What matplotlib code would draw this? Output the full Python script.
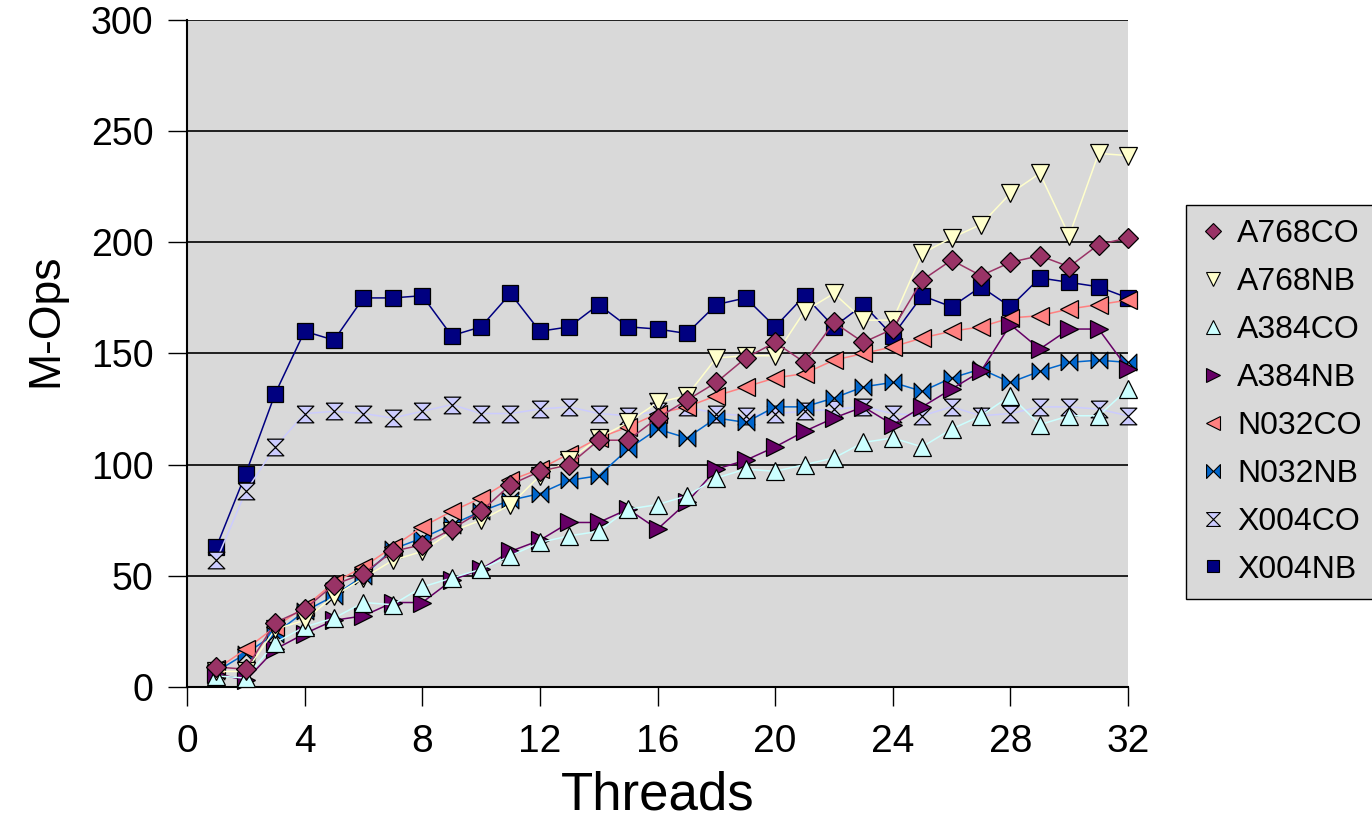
import numpy as np
import matplotlib.pyplot as plt
from matplotlib.lines import Line2D

plt.rcParams['font.family'] = ['Liberation Sans', 'DejaVu Sans']

# Values (M-Ops per thread count).
threads = np.arange(1, 33)

a768co = [9, 8, 29, 35, 46, 51, 61, 64, 71, 79, 91, 97, 100, 111, 111, 121,
          129, 137, 148, 155, 146, 164, 155, 161, 183, 192, 185, 191, 194, 189, 199, 202]
a768nb = [7, 7, 26, 30, 41, 49, 57, 61, 70, 75, 82, 95, 102, 112, 119, 128,
          131, 148, 149, 149, 169, 177, 165, 165, 195, 202, 208, 222, 231, 203, 240, 239]
a384co = [5, 4, 20, 27, 31, 38, 37, 45, 49, 53, 59, 65, 68, 70, 80, 82,
          86, 94, 98, 97, 100, 103, 110, 112, 108, 116, 122, 131, 118, 122, 122, 134]
a384nb = [6, 3, 17, 24, 30, 32, 38, 38, 48, 53, 61, 66, 74, 74, 80, 71,
          83, 98, 102, 108, 115, 121, 126, 118, 126, 134, 142, 163, 152, 161, 161, 143]
n032co = [8, 17, 27, 36, 47, 54, 63, 72, 79, 85, 93, 98, 105, 112, 117, 123,
          126, 131, 135, 139, 141, 147, 150, 153, 157, 160, 162, 166, 167, 170, 172, 174]
n032nb = [7, 15, 24, 34, 41, 50, 62, 67, 73, 79, 84, 87, 93, 95, 107, 116,
          112, 121, 119, 126, 126, 130, 135, 137, 133, 139, 143, 137, 142, 146, 147, 146]
x004co = [57, 88, 108, 123, 124, 123, 121, 124, 127, 123, 123, 125, 126, 123, 122, 124,
          126, 123, 122, 123, 124, 125, 126, 123, 122, 126, 122, 123, 126, 126, 125, 122]
x004nb = [63, 96, 132, 160, 156, 175, 175, 176, 158, 162, 177, 160, 162, 172, 162, 161,
          159, 172, 175, 162, 176, 162, 172, 158, 176, 171, 180, 171, 184, 182, 180, 175]

names = ['A768CO', 'A768NB', 'A384CO', 'A384NB', 'N032CO', 'N032NB', 'X004CO', 'X004NB']
values = [a768co, a768nb, a384co, a384nb, n032co, n032nb, x004co, x004nb]

# Excel-like palette and markers.
colors = ['#993366', '#ffffcc', '#ccffff', '#660066', '#ff8080', '#0066cc', '#ccccff', '#000080']
bowtie = [(-1, -1), (-1, 1), (0, 0), (1, 1), (1, -1), (0, 0), (-1, -1)]
hourglass = [(-1, 1), (1, 1), (0, 0), (1, -1), (-1, -1), (0, 0), (-1, 1)]
markers = ['D', 'v', '^', '>', '<', bowtie, hourglass, 's']
sizes = [10, 13, 13, 13, 13, 12, 12, 11.5]
legend_sizes = [8, 10, 10, 10, 10, 10, 10, 9]

fig = plt.figure(figsize=(13.72, 8.18), dpi=100)
ax = fig.add_axes([187 / 1372, 131 / 818, 941 / 1372, 667 / 818])
ax.set_facecolor('#d9d9d9')

n = len(names)
for i in range(n):
    # First series ends up on top, as in the original.
    ax.plot(threads, values[i], color=colors[i], lw=1.1, marker=markers[i],
            ms=sizes[i], mfc=colors[i], mec='black', mew=0.9,
            clip_on=False, zorder=10 + (n - i))

ax.set_xlim(0, 32)
ax.set_ylim(0, 300)
ax.set_xticks(range(0, 33, 4))
ax.set_yticks(range(0, 301, 50))
ax.yaxis.grid(True, color='black', lw=1.2)
ax.set_axisbelow(True)

for side in ['top', 'right']:
    ax.spines[side].set_visible(False)
for side in ['left', 'bottom']:
    ax.spines[side].set_color('black')
    ax.spines[side].set_linewidth(1.5)

ax.tick_params(axis='both', direction='out', length=14, width=1, colors='black')
ax.tick_params(axis='y', labelsize=27, pad=10)
ax.tick_params(axis='x', labelsize=28, pad=13)

ax.set_xlabel('Threads', fontsize=38, labelpad=7)
ax.set_ylabel('M-Ops', fontsize=32)
ax.yaxis.set_label_coords(-0.128, 0.55)

handles = [Line2D([], [], ls='none', marker=markers[i], ms=legend_sizes[i],
                  mfc=colors[i], mec='black', mew=0.8) for i in range(n)]
leg = fig.legend(handles, names, loc='upper left',
                 bbox_to_anchor=(1186 / 1372, 1 - 205 / 818),
                 fontsize=23, frameon=True, fancybox=False, framealpha=1,
                 facecolor='#d9d9d9', edgecolor='black',
                 labelspacing=0.56, handletextpad=0.35, handlelength=0.8,
                 borderpad=0.45, borderaxespad=0)
leg.get_frame().set_linewidth(1.0)

fig.savefig('out.png', dpi=100)
